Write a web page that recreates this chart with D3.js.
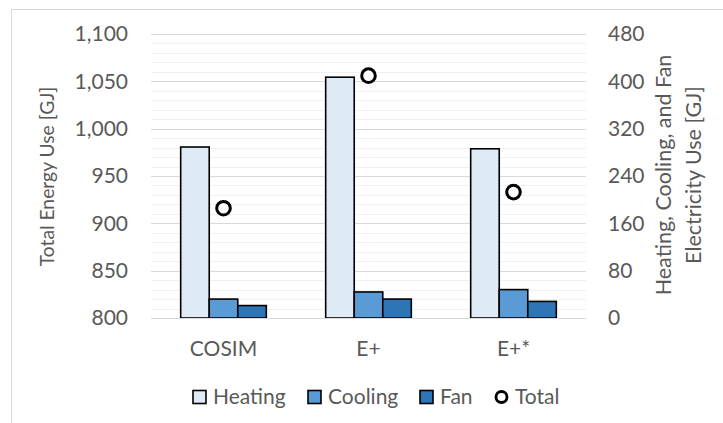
<!DOCTYPE html>
<html>
<head>
<meta charset="utf-8">
<script src="https://cdn.jsdelivr.net/npm/d3@7/dist/d3.min.js"></script>
<style>
  html, body { margin: 0; padding: 0; background: #fff; }
  svg { display: block; }
  text { font-family: Lato, "Open Sans", sans-serif; fill: #595959; }
</style>
</head>
<body>
<svg id="chart" width="723" height="423"></svg>
<script>
// Simulated annual energy use per model
const categories = ["COSIM", "E+", "E+*"];
const series = ["Heating", "Cooling", "Fan"];
const heating = [289, 407, 286];
const cooling = [32, 44, 48];
const fan = [21, 32, 28];
const total = [916, 1056, 933];
const leftTicks = [800, 850, 900, 950, 1000, 1050, 1100];
const rightTicks = [0, 80, 160, 240, 320, 400, 480];
const colors = { Heating: "#DEEBF7", Cooling: "#5B9BD5", Fan: "#2E75B6" };

const svg = d3.select("#chart");
const W = 723, H = 423;
const plot = { left: 151, right: 586, top: 34, bottom: 318 };
const FS = "21px";

// frame around the chart
svg.append("rect")
  .attr("x", 11.5).attr("y", 9.5)
  .attr("width", W).attr("height", H)
  .attr("fill", "none").attr("stroke", "#D9D9D9").attr("stroke-width", 1);

const yL = d3.scaleLinear().domain([800, 1100]).range([plot.bottom, plot.top]);
const yR = d3.scaleLinear().domain([0, 480]).range([plot.bottom, plot.top]);
const x0 = d3.scaleBand().domain(categories).range([plot.left, plot.right]);
const x1 = d3.scaleBand().domain(series).range([0, x0.bandwidth()])
  .paddingInner(0).paddingOuter(1.04);

// minor and major gridlines
const minor = d3.range(800, 1101, 10).filter(v => v % 50 !== 0);
svg.append("g").selectAll("line").data(minor).join("line")
  .attr("x1", plot.left).attr("x2", plot.right)
  .attr("y1", d => Math.round(yL(d)) + 0.5).attr("y2", d => Math.round(yL(d)) + 0.5)
  .attr("stroke", "#F0F0F0").attr("stroke-width", 1);
svg.append("g").selectAll("line").data(leftTicks).join("line")
  .attr("x1", plot.left).attr("x2", plot.right)
  .attr("y1", d => Math.round(yL(d)) + 0.5).attr("y2", d => Math.round(yL(d)) + 0.5)
  .attr("stroke", "#D9D9D9").attr("stroke-width", 1);

// bars
const rows = categories.map((c, i) => ({
  cat: c,
  vals: [
    { key: "Heating", v: heating[i] },
    { key: "Cooling", v: cooling[i] },
    { key: "Fan", v: fan[i] }
  ]
}));
const groups = svg.append("g").selectAll("g").data(rows).join("g")
  .attr("transform", d => `translate(${x0(d.cat)},0)`);
groups.selectAll("rect").data(d => d.vals).join("rect")
  .attr("x", d => x1(d.key))
  .attr("width", x1.bandwidth())
  .attr("y", d => yR(d.v))
  .attr("height", d => yR(0) - yR(d.v))
  .attr("fill", d => colors[d.key])
  .attr("stroke", "#000").attr("stroke-width", 1.6);

// totals on the left axis
svg.append("g").selectAll("circle").data(categories).join("circle")
  .attr("cx", d => x0(d) + x0.bandwidth() / 2)
  .attr("cy", (d, i) => yL(total[i]))
  .attr("r", 6.8)
  .attr("fill", "#fff").attr("stroke", "#000").attr("stroke-width", 3);

// left axis
const fmt = d3.format(",");
const leftAxis = d3.axisLeft(yL).tickValues(leftTicks).tickFormat(fmt).tickSize(0).tickPadding(23);
const gL = svg.append("g").attr("transform", `translate(${plot.left},0)`).call(leftAxis);
gL.select(".domain").remove();
gL.selectAll("text").style("font-size", FS).style("fill", "#595959").attr("font-family", null);

// right axis
const rightAxis = d3.axisRight(yR).tickValues(rightTicks).tickSize(0).tickPadding(22);
const gR = svg.append("g").attr("transform", `translate(${plot.right},0)`).call(rightAxis);
gR.select(".domain").remove();
gR.selectAll("text").style("font-size", FS).style("fill", "#595959").attr("font-family", null);

// category axis
const bottomAxis = d3.axisBottom(x0).tickSize(0).tickPadding(23);
const gB = svg.append("g").attr("transform", `translate(0,${plot.bottom})`).call(bottomAxis);
gB.select(".domain").attr("stroke", "#D9D9D9").attr("d", `M${plot.left},0.5H${plot.right}`);
gB.selectAll("text").style("font-size", FS).style("fill", "#595959").attr("font-family", null);

// axis titles
svg.append("text")
  .attr("transform", `translate(54,176.5) rotate(-90)`)
  .attr("text-anchor", "middle").style("font-size", "19.3px")
  .text("Total Energy Use [GJ]");
const rt = svg.append("text")
  .attr("transform", `translate(671,175) rotate(-90)`)
  .attr("text-anchor", "middle").style("font-size", "21.5px");
rt.append("tspan").attr("x", 0).attr("dy", 0).text("Heating, Cooling, and Fan");
rt.append("tspan").attr("x", 0).attr("dy", 30).text("Electricity Use [GJ]");

// legend
const legend = [
  { key: "Heating", x: 193 },
  { key: "Cooling", x: 308 },
  { key: "Fan", x: 420 },
  { key: "Total", x: 495 }
];
const ly = 397;
const lg = svg.append("g").selectAll("g").data(legend).join("g")
  .attr("transform", d => `translate(${d.x},${ly})`);
lg.filter(d => d.key !== "Total").append("rect")
  .attr("x", 0).attr("y", -6.5).attr("width", 13).attr("height", 13)
  .attr("fill", d => colors[d.key]).attr("stroke", "#000").attr("stroke-width", 1.6);
lg.filter(d => d.key === "Total").append("circle")
  .attr("cx", 6.5).attr("cy", 0).attr("r", 5.5)
  .attr("fill", "#fff").attr("stroke", "#000").attr("stroke-width", 2.8);
lg.append("text")
  .attr("x", 20).attr("y", 0).attr("dy", "0.35em")
  .style("font-size", FS)
  .text(d => d.key);
</script>
</body>
</html>
